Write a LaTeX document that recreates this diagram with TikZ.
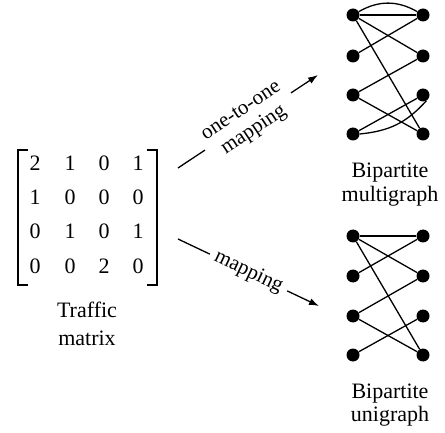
\documentclass[tikz,border=0pt]{standalone}
\usepackage{fontspec}
\setmainfont{Liberation Serif}
\usetikzlibrary{arrows.meta}
\begin{document}
\begin{tikzpicture}[x=1pt,y=1pt,
  vtx/.style={circle,fill=black,inner sep=0pt,minimum size=13pt},
  edge/.style={line width=1.3pt},
  lbl/.style={font=\fontsize{22}{24}\selectfont, anchor=base, inner sep=0pt},
  num/.style={font=\fontsize{22}{24}\selectfont, anchor=base, inner sep=0pt},
  brk/.style={line width=1.2pt},
  arr/.style={line width=1.3pt,-{Latex[length=10pt,width=7pt]}},
  albl/.style={font=\fontsize{21}{23}\selectfont, fill=white, sloped, align=center, inner sep=6pt}
]
\useasboundingbox (0,0) rectangle (445,-433);

% matrix entries
\node[num] (m11) at (35,-171) {2};  \node[num] (m12) at (70,-171) {1};
\node[num] (m13) at (104,-171) {0}; \node[num] (m14) at (138,-171) {1};
\node[num] (m21) at (35,-205) {1};  \node[num] (m22) at (70,-205) {0};
\node[num] (m23) at (104,-205) {0}; \node[num] (m24) at (138,-205) {0};
\node[num] (m31) at (35,-239) {0};  \node[num] (m32) at (70,-239) {1};
\node[num] (m33) at (104,-239) {0}; \node[num] (m34) at (138,-239) {1};
\node[num] (m41) at (35,-273) {0};  \node[num] (m42) at (70,-273) {0};
\node[num] (m43) at (104,-273) {2}; \node[num] (m44) at (138,-273) {0};
\draw[brk] (28,-150) -- (18,-150) -- (18,-285) -- (28,-285);
\draw[brk] (147,-150) -- (157,-150) -- (157,-285) -- (147,-285);
\node[lbl] (tm1) at (87,-317) {Traffic};
\node[lbl] (tm2) at (87,-345) {matrix};

% arrows
\coordinate (u1) at (178,-168);
\coordinate (u2) at (318,-75);
\draw[arr] (u1) -- node[albl] {one-to-one\\mapping} (u2);
\coordinate (d1) at (178,-239);
\coordinate (d2) at (319,-306);
\draw[arr] (d1) -- node[albl] {mapping} (d2);

% multigraph
\node[vtx] (a1) at (353,-15) {};
\node[vtx] (a2) at (353,-56) {};
\node[vtx] (a3) at (353,-95) {};
\node[vtx] (a4) at (353,-134) {};
\node[vtx] (b1) at (423,-15) {};
\node[vtx] (b2) at (423,-56) {};
\node[vtx] (b3) at (423,-95) {};
\node[vtx] (b4) at (423,-134) {};
\draw[edge] (a1) -- (b1);
\draw[edge] (a1) to[bend left=30] (b1);
\draw[edge] (a1) -- (b2);
\draw[edge] (a1) -- (b4);
\draw[edge] (a2) -- (b1);
\draw[edge] (a3) -- (b2);
\draw[edge] (a3) -- (b4);
\draw[edge] (a4) -- (b3);
\draw[edge] (a4.east) .. controls +(30,3) and +(-20,-22) .. (b3.-60);
\node[lbl] (ml1) at (390,-178) {Bipartite};
\node[lbl] (ml2) at (390,-202) {multigraph};

% unigraph
\node[vtx] (c1) at (353,-236) {};
\node[vtx] (c2) at (353,-276) {};
\node[vtx] (c3) at (353,-316) {};
\node[vtx] (c4) at (353,-355) {};
\node[vtx] (e1) at (423,-236) {};
\node[vtx] (e2) at (423,-276) {};
\node[vtx] (e3) at (423,-316) {};
\node[vtx] (e4) at (423,-355) {};
\draw[edge] (c1) -- (e1);
\draw[edge] (c1) -- (e2);
\draw[edge] (c1) -- (e4);
\draw[edge] (c2) -- (e1);
\draw[edge] (c3) -- (e2);
\draw[edge] (c3) -- (e4);
\draw[edge] (c4) -- (e3);
\node[lbl] (ul1) at (390,-398) {Bipartite};
\node[lbl] (ul2) at (390,-421) {unigraph};
\end{tikzpicture}
\end{document}
